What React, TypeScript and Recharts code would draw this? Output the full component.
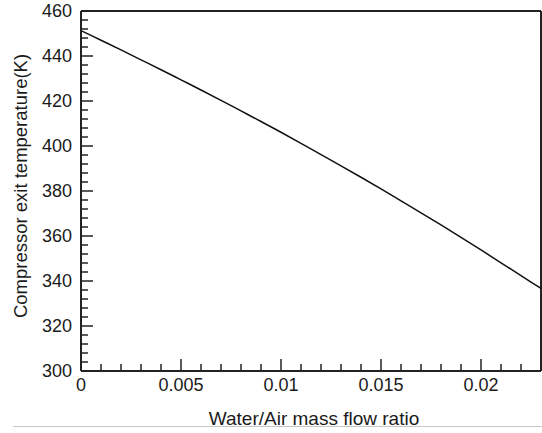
import React from "react";
import { LineChart, Line, XAxis, YAxis, ReferenceLine, Label } from "recharts";

const ratio = [0, 0.001, 0.002, 0.003, 0.004, 0.005, 0.006, 0.007, 0.008, 0.009, 0.01, 0.011, 0.012, 0.013, 0.014, 0.015, 0.016, 0.017, 0.018, 0.019, 0.02, 0.021, 0.022, 0.023];
const temperature = [451.3, 447.0, 442.7, 438.3, 433.9, 429.4, 424.9, 420.3, 415.6, 410.9, 406.1, 401.2, 396.2, 391.2, 386.1, 380.9, 375.6, 370.3, 364.9, 359.4, 353.8, 348.1, 342.4, 336.7];

const xTicks = [0, 0.001, 0.002, 0.003, 0.004, 0.005, 0.006, 0.007, 0.008, 0.009, 0.01, 0.011, 0.012, 0.013, 0.014, 0.015, 0.016, 0.017, 0.018, 0.019, 0.02, 0.021, 0.022, 0.023];
const xMajor = ["0", "0.005", "0.01", "0.015", "0.02"];
const yTicks = [300, 304, 308, 312, 316, 320, 324, 328, 332, 336, 340, 344, 348, 352, 356, 360, 364, 368, 372, 376, 380, 384, 388, 392, 396, 400, 404, 408, 412, 416, 420, 424, 428, 432, 436, 440, 444, 448, 452, 456, 460];
const yMajor = ["300", "320", "340", "360", "380", "400", "420", "440", "460"];

const data = ratio.map((r, i) => ({ r, t: temperature[i] }));

const FONT = "'Liberation Sans', Arial, Helvetica, sans-serif";
const AXIS = "#222";

const XTick = (props: any) => {
  const { x, y, payload } = props;
  const label = String(payload.value);
  const major = xMajor.includes(label);
  return (
    <g>
      <line x1={x} x2={x} y1={y} y2={y - (major ? 12 : 7)} stroke={AXIS} strokeWidth={1.5} />
      {major && (
        <text x={x} y={y + 20} textAnchor="middle" fontSize={18} fontFamily={FONT} fill="#1a1a1a">
          {label}
        </text>
      )}
    </g>
  );
};

const YTick = (props: any) => {
  const { x, y, payload } = props;
  const label = String(payload.value);
  const major = yMajor.includes(label);
  return (
    <g>
      <line x1={x} x2={x + (major ? 12 : 7)} y1={y} y2={y} stroke={AXIS} strokeWidth={1.5} />
      {major && (
        <text x={x - 9} y={y} dy="0.36em" textAnchor="end" fontSize={18} fontFamily={FONT} fill="#1a1a1a">
          {label}
        </text>
      )}
    </g>
  );
};

export default function App() {
  return (
    <div style={{ position: "absolute", left: 0, top: 0, width: 542, height: 433, background: "#fff" }}>
      <LineChart width={542} height={433} data={data} margin={{ top: 11, right: 1, bottom: 0, left: 0 }}>
        <XAxis
          dataKey="r"
          type="number"
          domain={[0, 0.023]}
          ticks={xTicks}
          interval={0}
          tickSize={0}
          tickMargin={0}
          tickLine={false}
          height={62}
          axisLine={{ stroke: AXIS, strokeWidth: 2 }}
          tick={<XTick />}
        >
          <Label
            content={() => (
              <text x={314} y={425} textAnchor="middle" fontSize={19} fontFamily={FONT} fill="#1a1a1a">
                Water/Air mass flow ratio
              </text>
            )}
          />
        </XAxis>
        <YAxis
          type="number"
          domain={[300, 460]}
          ticks={yTicks}
          interval={0}
          tickSize={0}
          tickMargin={0}
          tickLine={false}
          width={81}
          axisLine={{ stroke: AXIS, strokeWidth: 2 }}
          tick={<YTick />}
        >
          <Label
            content={() => (
              <text
                x={27}
                y={186}
                transform="rotate(-90 27 186)"
                textAnchor="middle"
                fontSize={18.5}
                fontFamily={FONT}
                fill="#1a1a1a"
              >
                Compressor exit temperature(K)
              </text>
            )}
          />
        </YAxis>
        <ReferenceLine y={460} stroke={AXIS} strokeWidth={2} />
        <ReferenceLine x={0.023} stroke={AXIS} strokeWidth={2} />
        <Line
          type="monotone"
          dataKey="t"
          stroke="#111"
          strokeWidth={1.5}
          dot={false}
          isAnimationActive={false}
        />
      </LineChart>
      <div style={{ position: "absolute", left: 13, top: 426, width: 529, height: 0, borderTop: "1px solid #c8c8c8" }} />
    </div>
  );
}
